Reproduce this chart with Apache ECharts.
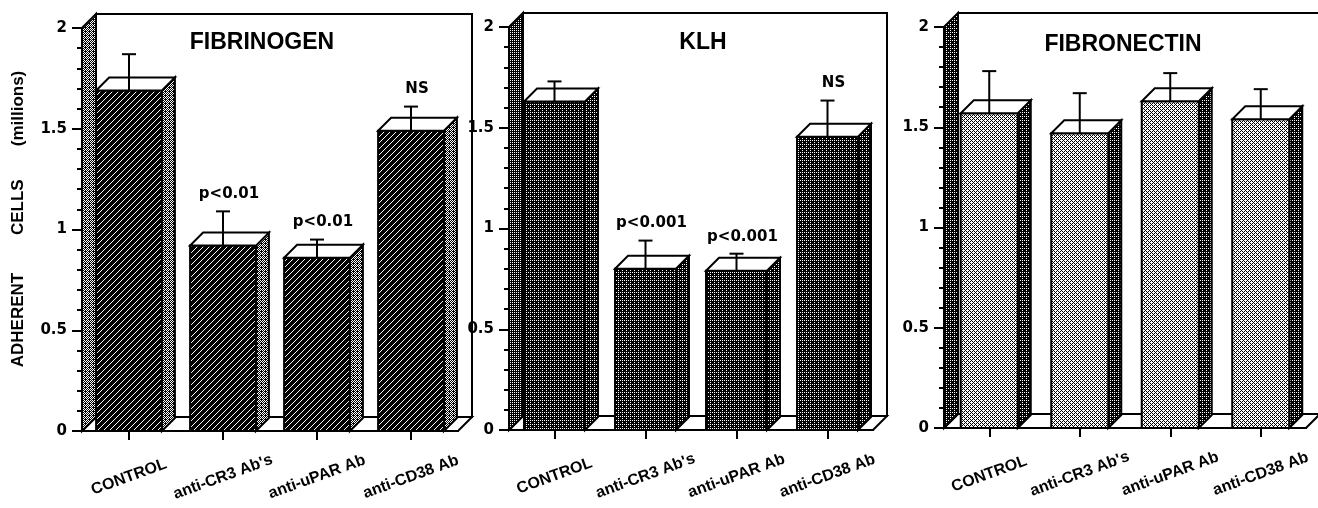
<!DOCTYPE html>
<html><head><meta charset="utf-8">
<script src="https://cdn.jsdelivr.net/npm/echarts@6/dist/echarts.min.js"></script>
<style>html,body{margin:0;padding:0;background:#fff}#c{width:1318px;height:508px}</style>
</head><body><div id="c"></div>
<script>
// ---------------- data ----------------
const categories = ['CONTROL', "anti-CR3 Ab's", 'anti-uPAR Ab', 'anti-CD38 Ab'];
const panelTitles = ['FIBRINOGEN', 'KLH', 'FIBRONECTIN'];
const yAxisTitle = 'ADHERENT        CELLS       (millions)';
const yMin = 0, yMax = 2, yInterval = 0.5;

const fibrinogenMeans = [1.69, 0.92, 0.86, 1.49];
const fibrinogenErrors = [0.18, 0.17, 0.09, 0.12];
const fibrinogenNotes = ['', 'p<0.01', 'p<0.01', 'NS'];

const klhMeans = [1.63, 0.80, 0.79, 1.455];
const klhErrors = [0.10, 0.14, 0.085, 0.18];
const klhNotes = ['', 'p<0.001', 'p<0.001', 'NS'];

const fibronectinMeans = [1.57, 1.47, 1.63, 1.54];
const fibronectinErrors = [0.21, 0.20, 0.14, 0.15];
const fibronectinNotes = ['', '', '', ''];

// ---------------- textures ----------------
const bayer = [[0,8,2,10],[12,4,14,6],[3,11,1,9],[15,7,13,5]];
function dither(count) {
  const c = document.createElement('canvas'); c.width = 4; c.height = 4;
  const ctx = c.getContext('2d'); const img = ctx.createImageData(4, 4);
  for (let y = 0; y < 4; y++) for (let x = 0; x < 4; x++) {
    const v = bayer[y][x] < count ? 255 : 0; const k = (y * 4 + x) * 4;
    img.data[k] = img.data[k+1] = img.data[k+2] = v; img.data[k+3] = 255;
  }
  ctx.putImageData(img, 0, 0);
  return { image: c, repeat: 'repeat' };
}
function hatch(n) {
  const c = document.createElement('canvas'); c.width = n; c.height = n;
  const ctx = c.getContext('2d'); const img = ctx.createImageData(n, n);
  for (let y = 0; y < n; y++) for (let x = 0; x < n; x++) {
    const v = (x + y === n - 1) ? 255 : 0; const k = (y * n + x) * 4;
    img.data[k] = img.data[k+1] = img.data[k+2] = v; img.data[k+3] = 255;
  }
  ctx.putImageData(img, 0, 0);
  return { image: c, repeat: 'repeat' };
}

const panels = [
  { title: panelTitles[0], means: fibrinogenMeans, errs: fibrinogenErrors, notes: fibrinogenNotes,
    grid: { left: 82, top: 28, width: 376, height: 403 }, ratio: 0.70,
    front: hatch(6), side: dither(7), wall: dither(7), titleAt: [262, 31] },
  { title: panelTitles[1], means: klhMeans, errs: klhErrors, notes: klhNotes,
    grid: { left: 509, top: 27, width: 364, height: 403 }, ratio: 0.67,
    front: dither(3), side: dither(3), wall: dither(4), titleAt: [703, 31] },
  { title: panelTitles[2], means: fibronectinMeans, errs: fibronectinErrors, notes: fibronectinNotes,
    grid: { left: 944, top: 27, width: 362, height: 401 }, ratio: 0.63,
    front: dither(10), side: dither(3), wall: dither(3), titleAt: [1123, 33] }
];

const WALL_D = 14, BAR_D = 13;

function frameRenderer(p) {
  return function (params, api) {
    const cs = params.coordSys;
    const x0 = cs.x, x1 = cs.x + cs.width, yT = cs.y, yB = cs.y + cs.height, d = WALL_D;
    const st = { stroke: '#000', lineWidth: 2 };
    return { type: 'group', children: [
      { type: 'polygon', shape: { points: [[x0+d, yT-d], [x1+d, yT-d], [x1+d, yB-d], [x0+d, yB-d]] }, style: Object.assign({ fill: '#fff' }, st) },
      { type: 'polygon', shape: { points: [[x0, yB], [x1, yB], [x1+d, yB-d], [x0+d, yB-d]] }, style: Object.assign({ fill: '#fff' }, st) },
      { type: 'polygon', shape: { points: [[x0, yB], [x0+d, yB-d], [x0+d, yT-d], [x0, yT]] }, style: Object.assign({ fill: p.wall }, st) }
    ] };
  };
}

function barRenderer(p) {
  return function (params, api) {
    const i = api.value(0), v = api.value(1), e = api.value(2);
    const base = api.coord([i, 0]), top = api.coord([i, v]), et = api.coord([i, v + e]);
    const bw = api.size([1, 0])[0] * p.ratio, d = BAR_D;
    const cx = base[0], x0 = cx - bw / 2, x1 = cx + bw / 2, yb = base[1], yt = top[1];
    const st = { stroke: '#000', lineWidth: 2 };
    const ch = [
      { type: 'polygon', shape: { points: [[x1, yb], [x1+d, yb-d], [x1+d, yt-d], [x1, yt]] }, style: Object.assign({ fill: p.side }, st) },
      { type: 'rect', shape: { x: x0, y: yt, width: bw, height: yb - yt }, style: Object.assign({ fill: p.front }, st) },
      { type: 'polygon', shape: { points: [[x0, yt], [x1, yt], [x1+d, yt-d], [x0+d, yt-d]] }, style: Object.assign({ fill: '#fff' }, st) },
      { type: 'line', shape: { x1: cx, y1: yt, x2: cx, y2: et[1] }, style: { stroke: '#000', lineWidth: 2 } },
      { type: 'line', shape: { x1: cx - 7, y1: et[1], x2: cx + 7, y2: et[1] }, style: { stroke: '#000', lineWidth: 2 } }
    ];
    const note = p.notes[params.dataIndex];
    if (note) ch.push({ type: 'text', x: cx + 6, y: et[1] - 17,
      style: { text: note, font: 'bold 15px "DejaVu Sans"', fill: '#000', align: 'center', verticalAlign: 'middle', textAlign: 'center', textVerticalAlign: 'middle' } });
    return { type: 'group', children: ch };
  };
}

const option = {
  animation: false,
  backgroundColor: '#fff',
  title: panels.map(p => ({ text: p.title, left: p.titleAt[0], top: p.titleAt[1], textAlign: 'center', padding: 0,
    textStyle: { fontFamily: 'Liberation Sans', fontWeight: 'bold', fontSize: 23, color: '#000' } })),
  graphic: [{ type: 'text', x: 18, y: 219, rotation: Math.PI / 2,
    style: { text: yAxisTitle, font: 'bold 17px "Liberation Sans"', fill: '#000', align: 'center', verticalAlign: 'middle', textAlign: 'center', textVerticalAlign: 'middle' } }],
  grid: panels.map(p => Object.assign({}, p.grid)),
  xAxis: panels.map((p, k) => ({
    type: 'category', gridIndex: k, data: categories, z: 10,
    axisLine: { show: true, lineStyle: { color: '#000', width: 2 } },
    axisTick: { show: true, alignWithLabel: true, length: 9, lineStyle: { color: '#000', width: 2 } },
    axisLabel: { rotate: 20, align: 'center', verticalAlign: 'middle', margin: 46, interval: 0,
      fontFamily: 'Liberation Sans', fontWeight: 'bold', fontSize: 16, color: '#000' },
    splitLine: { show: false }
  })),
  yAxis: panels.map((p, k) => ({
    type: 'value', gridIndex: k, min: yMin, max: yMax, interval: yInterval, z: 10,
    axisLine: { show: true, lineStyle: { color: '#000', width: 2 } },
    axisTick: { show: true, length: 10, lineStyle: { color: '#000', width: 2 } },
    minorTick: { show: true, splitNumber: 5, length: 5, lineStyle: { color: '#000', width: 2 } },
    axisLabel: { margin: 15, fontFamily: 'DejaVu Sans', fontWeight: 'bold', fontSize: 15, color: '#000' },
    splitLine: { show: false }, minorSplitLine: { show: false }
  })),
  series: [].concat(...panels.map((p, k) => [
    { type: 'custom', xAxisIndex: k, yAxisIndex: k, z: 1, silent: true, clip: false,
      data: [[0, 0]], encode: { x: 0, y: 1 }, renderItem: frameRenderer(p) },
    { type: 'custom', xAxisIndex: k, yAxisIndex: k, z: 3, silent: true, clip: false,
      data: p.means.map((m, i) => [i, m, p.errs[i]]), encode: { x: 0, y: 1 }, renderItem: barRenderer(p) }
  ]))
};

const chart = echarts.init(document.getElementById('c'), null, { renderer: 'canvas' });
chart.setOption(option);
</script></body></html>
